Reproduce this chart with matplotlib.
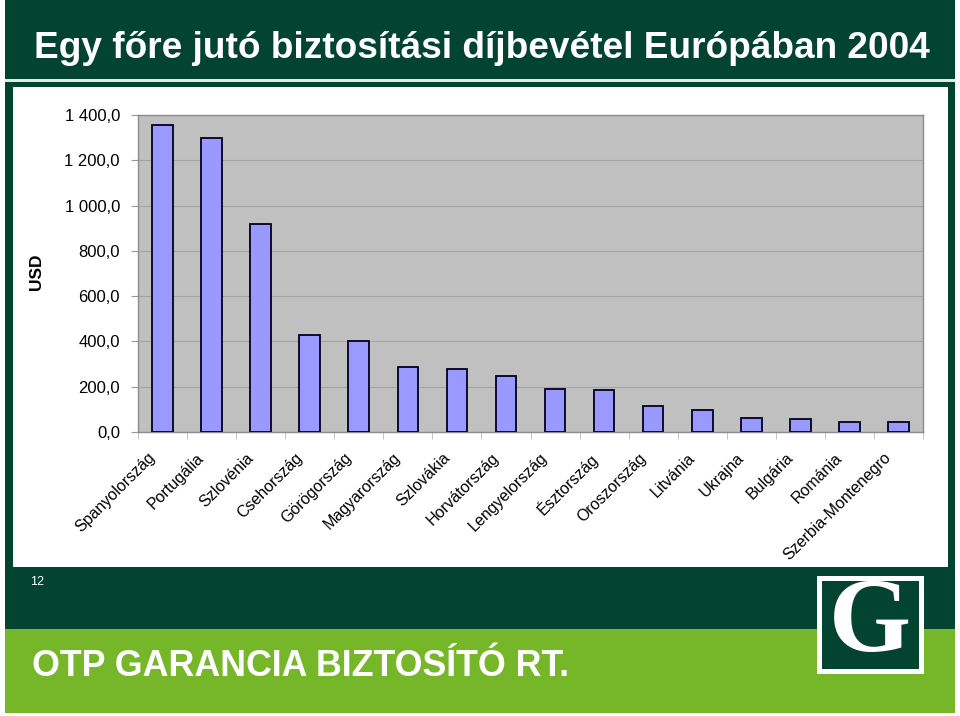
import matplotlib
matplotlib.use("Agg")
import matplotlib.pyplot as plt
import matplotlib.transforms as mtransforms
from matplotlib.patches import Rectangle
from matplotlib.ticker import FuncFormatter, FixedLocator

countries = ["Spanyolország", "Portugália", "Szlovénia", "Csehország", "Görögország",
             "Magyarország", "Szlovákia", "Horvátország", "Lengyelország", "Észtország",
             "Oroszország", "Litvánia", "Ukrajna", "Bulgária", "Románia", "Szerbia-Montenegro"]
premium_usd = [1356, 1297, 920, 427, 403, 288, 277, 247, 190, 184, 115, 97, 62, 56, 46, 46]
y_ticks = [0, 200, 400, 600, 800, 1000, 1200, 1400]

title = "Egy főre jutó biztosítási díjbevétel Európában 2004"
footer = "OTP GARANCIA BIZTOSÍTÓ RT."
page_no = "12"

dark_green = "#034430"
light_green = "#76B729"
plt.rcParams["font.family"] = ["Liberation Sans", "DejaVu Sans"]

W, H = 960, 716
fig = plt.figure(figsize=(W / 100, H / 100), dpi=100)
fig.patch.set_facecolor("white")


def px_rect(x0, y0, x1, y1, color, z=0):
    # rectangle given in pixel coords measured from top-left
    fig.patches.append(Rectangle((x0 / W, 1 - y1 / H), (x1 - x0) / W, (y1 - y0) / H,
                                 transform=fig.transFigure, facecolor=color,
                                 edgecolor="none", zorder=z))


def fit_width(txt, target_px):
    # shrink/grow font so the text spans about target_px
    r = fig.canvas.get_renderer()
    w = txt.get_window_extent(renderer=r).width
    txt.set_fontsize(txt.get_fontsize() * target_px / w)


# slide background
px_rect(5, 0, 955, 629, dark_green)
px_rect(5, 629, 955, 713, light_green)
px_rect(5, 79.5, 955, 81.5, "#e0ebe4", 1)
px_rect(13, 87, 948, 567, "white", 1)

t = fig.text(482 / W, 1 - 49 / H, title, color="white", fontsize=30, fontweight="bold",
             fontstretch="condensed", ha="center", va="center")
fit_width(t, 893)
fig.text(37 / W, 1 - 582 / H, page_no, color="white", fontsize=9, ha="center", va="center")
f = fig.text(32 / W, 1 - 666 / H, footer, color="white", fontsize=25, fontweight="bold",
             fontstretch="condensed", ha="left", va="center")
fit_width(f, 538)

# logo
px_rect(817, 576, 924, 674, "white", 2)
px_rect(822, 581, 919, 669, dark_green, 3)
fig.text(870 / W, 1 - 626 / H, "G", color="white", fontsize=76, fontweight="bold",
         family=["Liberation Serif", "DejaVu Serif"], ha="center", va="center", zorder=4)

# chart
ax = fig.add_axes([138 / W, 1 - 432 / H, 785 / W, 317 / H], zorder=5)
ax.set_facecolor("#C0C0C0")
x = range(len(countries))
ax.bar(x, premium_usd, width=0.42, color="#9999FF", edgecolor="#000020", linewidth=1.3, zorder=3)

ax.set_xlim(-0.5, len(countries) - 0.5)
ax.set_ylim(0, 1400)
ax.set_yticks(y_ticks)
ax.yaxis.set_major_formatter(FuncFormatter(lambda v, p: f"{v:,.1f}".replace(",", " ").replace(".", ",")))
ax.grid(axis="y", color="#a4a4a4", linewidth=0.8, zorder=1)
ax.tick_params(axis="y", direction="out", length=5, color="#999999", labelsize=12, pad=8)

ax.set_xticks(list(x))
ax.set_xticklabels(countries, rotation=45, ha="right", va="top", rotation_mode="anchor", fontsize=11.5)
ax.tick_params(axis="x", which="major", length=0, pad=13)
shift = mtransforms.ScaledTranslation(-15 / 100, 0, fig.dpi_scale_trans)
for lab in ax.get_xticklabels():
    lab.set_transform(lab.get_transform() + shift)
ax.xaxis.set_minor_locator(FixedLocator([i - 0.5 for i in range(len(countries) + 1)]))
ax.tick_params(axis="x", which="minor", direction="out", length=5, color="#bbbbbb")
for s in ax.spines.values():
    s.set_color("#8c8c8c")
    s.set_linewidth(1.0)

fig.text(37 / W, 1 - 272 / H, "USD", rotation=90, fontsize=12.5, fontweight="bold",
         ha="center", va="center", zorder=6)

fig.savefig("out.png", dpi=100)
